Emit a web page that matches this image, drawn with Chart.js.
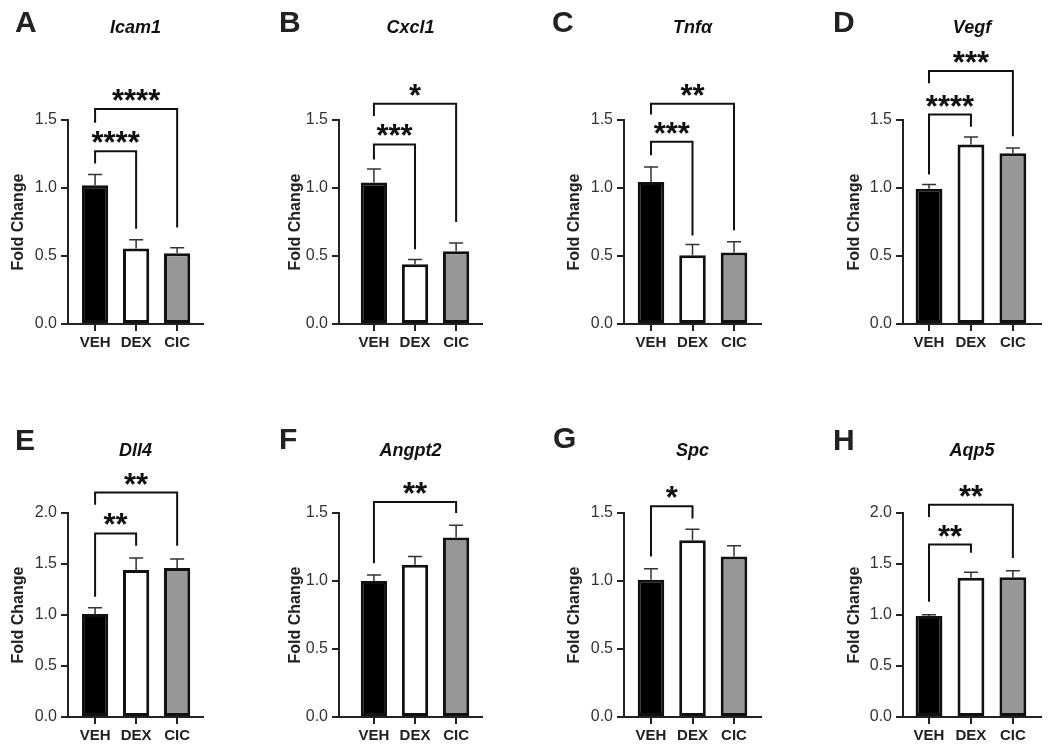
<!DOCTYPE html>
<html>
<head>
<meta charset="utf-8">
<script src="https://cdn.jsdelivr.net/npm/chart.js@4.4.0/dist/chart.umd.min.js"></script>
<style>
  body { margin: 0; background: #fff; }
  #wrap { position: relative; width: 1050px; height: 755px; overflow: hidden; }
  #wrap canvas { position: absolute; }
  .letter { position: absolute; font: bold 30px 'Liberation Sans', Arial, sans-serif; line-height: 30px; color: #222; }
</style>
</head>
<body>
<div id="wrap"></div>
<script>
// data
const groups = ['VEH', 'DEX', 'CIC'];
const letters = ['A', 'B', 'C', 'D', 'E', 'F', 'G', 'H'];
const genes = ['Icam1', 'Cxcl1', 'Tnfα', 'Vegf', 'Dll4', 'Angpt2', 'Spc', 'Aqp5'];
const yMax = [1.5, 1.5, 1.5, 1.5, 2.0, 1.5, 1.5, 2.0];
const means = [
  [1.02, 0.555, 0.52],
  [1.04, 0.44, 0.535],
  [1.045, 0.505, 0.525],
  [0.995, 1.32, 1.255],
  [1.01, 1.44, 1.46],
  [1.0, 1.12, 1.32],
  [1.01, 1.30, 1.18],
  [0.99, 1.365, 1.37]
];
const sems = [
  [0.08, 0.065, 0.04],
  [0.10, 0.035, 0.06],
  [0.11, 0.08, 0.08],
  [0.03, 0.055, 0.04],
  [0.06, 0.12, 0.09],
  [0.045, 0.06, 0.09],
  [0.08, 0.08, 0.08],
  [0.012, 0.055, 0.065]
];
// [from, to, bracket level, left leg end, right leg end, stars]
const brackets = [
  [[0, 1, 1.27, 1.18, 0.70, '****'], [0, 2, 1.58, 1.48, 0.71, '****']],
  [[0, 1, 1.32, 1.21, 0.55, '***'], [0, 2, 1.62, 1.53, 0.75, '*']],
  [[0, 1, 1.34, 1.24, 0.65, '***'], [0, 2, 1.62, 1.54, 0.69, '**']],
  [[0, 1, 1.54, 1.10, 1.45, '****'], [0, 2, 1.86, 1.77, 1.38, '***']],
  [[0, 1, 1.80, 1.18, 1.68, '**'], [0, 2, 2.20, 2.08, 1.68, '**']],
  [[0, 2, 1.58, 1.13, 1.50, '**']],
  [[0, 1, 1.55, 1.18, 1.46, '*']],
  [[0, 1, 1.69, 1.13, 1.61, '**'], [0, 2, 2.08, 1.96, 1.56, '**']]
];
const barColors = ['#000000', '#ffffff', '#979797'];

// layout
const colAxisX = [68, 339, 624, 903];
const colPlotW = [135, 143, 137, 138];
const colYWidth = [63, 57, 63, 62];
const colXMin = [-0.66, -0.85, -0.65, -0.62];
const colXMax = [2.63, 2.63, 2.65, 2.67];
const rowTop = [0, 390];
const rowPlotTop = [120, 513];
const plotH = 204;
const xAxisH = 36;
const titleBase = [33, 66];
const letterPos = [[15, 7], [279, 7], [552, 7], [833, 7], [15, 425], [279, 424], [553, 423], [833, 425]];

const FONT = "'Liberation Sans', Arial, sans-serif";
Chart.defaults.font.family = FONT;
Chart.defaults.color = '#222';

const extras = {
  id: 'extras',
  afterDatasetsDraw(chart, args, opts) {
    const { ctx, chartArea, scales: { x, y } } = chart;
    const i = opts.panel;
    ctx.save();
    // error bars (upper only)
    ctx.strokeStyle = '#333';
    ctx.lineWidth = 1.5;
    means[i].forEach((m, k) => {
      const px = x.getPixelForValue(k);
      const top = y.getPixelForValue(m + sems[i][k]);
      ctx.beginPath();
      ctx.moveTo(px, y.getPixelForValue(m));
      ctx.lineTo(px, top);
      ctx.moveTo(px - 7, top);
      ctx.lineTo(px + 7, top);
      ctx.stroke();
    });
    // significance brackets
    ctx.strokeStyle = '#111';
    ctx.lineWidth = 2;
    ctx.fillStyle = '#111';
    ctx.font = 'bold 31px ' + FONT;
    ctx.textAlign = 'center';
    ctx.textBaseline = 'alphabetic';
    brackets[i].forEach(([a, b, lvl, la, lb, lab]) => {
      const xa = x.getPixelForValue(a), xb = x.getPixelForValue(b);
      const yl = y.getPixelForValue(lvl);
      ctx.beginPath();
      ctx.moveTo(xa, y.getPixelForValue(la));
      ctx.lineTo(xa, yl);
      ctx.lineTo(xb, yl);
      ctx.lineTo(xb, y.getPixelForValue(lb));
      ctx.stroke();
      ctx.fillText(lab, (xa + xb) / 2, yl + 2);
    });
    // gene title
    ctx.fillStyle = '#111';
    ctx.font = 'italic bold 18px ' + FONT;
    ctx.fillText(genes[i], (chartArea.left + chartArea.right) / 2, opts.titleY);
    ctx.restore();
  }
};

const wrap = document.getElementById('wrap');

genes.forEach((g, i) => {
  const col = i % 4, row = Math.floor(i / 4);
  const padTop = rowPlotTop[row] - rowTop[row];
  const yW = colYWidth[col];
  const cv = document.createElement('canvas');
  cv.width = yW + colPlotW[col] + 6;
  cv.height = padTop + plotH + xAxisH;
  cv.style.left = (colAxisX[col] - yW) + 'px';
  cv.style.top = rowTop[row] + 'px';
  wrap.appendChild(cv);

  const lt = document.createElement('div');
  lt.className = 'letter';
  lt.textContent = letters[i];
  lt.style.left = letterPos[i][0] + 'px';
  lt.style.top = letterPos[i][1] + 'px';
  wrap.appendChild(lt);

  new Chart(cv, {
    type: 'bar',
    data: {
      datasets: [{
        data: means[i].map((v, k) => ({ x: k, y: v })),
        backgroundColor: barColors,
        borderColor: '#111',
        borderWidth: 3,
        borderSkipped: false,
        categoryPercentage: 1,
        barPercentage: 0.64
      }]
    },
    options: {
      responsive: false,
      animation: false,
      devicePixelRatio: 1,
      layout: { padding: { top: padTop, left: 0, right: 6, bottom: 0 } },
      plugins: {
        legend: { display: false },
        tooltip: { enabled: false },
        extras: { panel: i, titleY: titleBase[row] }
      },
      scales: {
        x: {
          type: 'linear',
          offset: false,
          min: colXMin[col],
          max: colXMax[col],
          afterBuildTicks: s => { s.ticks = groups.map((_, k) => ({ value: k })); },
          afterFit: s => { s.height = xAxisH; },
          ticks: {
            callback: v => groups[v],
            font: { size: 15, weight: 'bold' },
            color: '#222',
            padding: 3,
            maxRotation: 0,
            autoSkip: false
          },
          grid: { display: true, offset: false, drawOnChartArea: false, drawTicks: true, tickLength: 7, color: '#222', lineWidth: 2 },
          border: { display: true, color: '#222', width: 2 }
        },
        y: {
          min: 0,
          max: yMax[i],
          afterFit: s => { s.width = yW; },
          ticks: {
            stepSize: 0.5,
            callback: v => v.toFixed(1),
            font: { size: 16 },
            color: '#333',
            padding: 4
          },
          title: { display: true, text: 'Fold Change', font: { size: 16, weight: 'bold' }, color: '#222' },
          grid: { display: true, drawOnChartArea: false, drawTicks: true, tickLength: 7, color: '#222', lineWidth: 2 },
          border: { display: true, color: '#222', width: 2 }
        }
      }
    },
    plugins: [extras]
  });
});
</script>
</body>
</html>
